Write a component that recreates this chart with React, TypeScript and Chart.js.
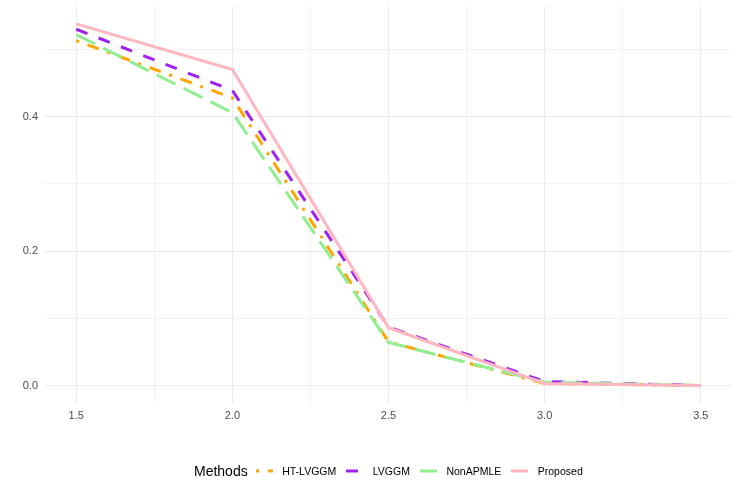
import React, { useEffect, useRef } from "react";
import { Chart, registerables } from "chart.js";

Chart.register(...registerables);

const xValues = [1.5, 2.0, 2.5, 3.0, 3.5];
const htLvggm = [0.513, 0.428, 0.065, 0.003, 0.0];
const lvggm = [0.53, 0.439, 0.087, 0.006, 0.0];
const nonApmle = [0.522, 0.406, 0.064, 0.005, 0.0];
const proposed = [0.538, 0.47, 0.086, 0.003, 0.0];

const xTicks = [1.5, 1.75, 2.0, 2.25, 2.5, 2.75, 3.0, 3.25, 3.5];
const yTicks = [0, 0.1, 0.2, 0.3, 0.4, 0.5];

const methods = [
  { name: "HT-LVGGM", data: htLvggm, color: "#FFA500", dash: [3, 9, 12, 9], order: 3 },
  { name: "LVGGM", data: lvggm, color: "#A020F0", dash: [12, 12], order: 2 },
  { name: "NonAPMLE", data: nonApmle, color: "#90EE90", dash: [21, 9], order: 1 },
  { name: "Proposed", data: proposed, color: "#FFB6C1", dash: [], order: 0 },
];

const FONT = "'Liberation Sans', Arial, sans-serif";

export default function App() {
  const ref = useRef<HTMLCanvasElement | null>(null);

  useEffect(() => {
    document.body.style.margin = "0";
    if (!ref.current) return;
    const chart = new Chart(ref.current, {
      type: "line",
      data: {
        datasets: methods.map((m) => ({
          label: m.name,
          data: xValues.map((x, i) => ({ x, y: m.data[i] })),
          borderColor: m.color,
          backgroundColor: m.color,
          borderWidth: 3,
          borderDash: m.dash,
          pointRadius: 0,
          tension: 0,
          fill: false,
          order: m.order,
          borderCapStyle: "butt" as const,
        })),
      },
      options: {
        animation: false,
        responsive: false,
        maintainAspectRatio: false,
        layout: { padding: { top: 6, right: 6, left: 0, bottom: 0 } },
        plugins: { legend: { display: false }, tooltip: { enabled: false } },
        scales: {
          x: {
            type: "linear",
            min: 1.4,
            max: 3.6,
            afterBuildTicks: (s: any) => {
              s.ticks = xTicks.map((v) => ({ value: v }));
            },
            afterFit: (s: any) => {
              s.height = 92;
              s.paddingLeft = 0;
              s.paddingRight = 0;
            },
            border: { display: false },
            grid: {
              drawTicks: false,
              color: (c: any) => (Math.abs((c.tick?.value * 2) % 1) < 1e-6 ? "#EBEBEB" : "#F2F2F2"),
              lineWidth: 1,
            },
            ticks: {
              padding: 6,
              color: "#4D4D4D",
              font: { family: FONT, size: 11 },
              callback: (v: any) => {
                const n = Number(v);
                return Math.abs((n * 2) % 1) < 1e-6 ? n.toFixed(1) : "";
              },
            },
          },
          y: {
            type: "linear",
            min: -0.026,
            max: 0.5646,
            afterBuildTicks: (s: any) => {
              s.ticks = yTicks.map((v) => ({ value: v }));
            },
            afterFit: (s: any) => {
              s.width = 45;
              s.paddingTop = 0;
              s.paddingBottom = 0;
            },
            border: { display: false },
            grid: {
              drawTicks: false,
              color: (c: any) => (Math.round(c.tick?.value * 10) % 2 === 0 ? "#EBEBEB" : "#F2F2F2"),
              lineWidth: 1,
            },
            ticks: {
              padding: 7,
              color: "#4D4D4D",
              font: { family: FONT, size: 11 },
              callback: (v: any) => {
                const n = Math.round(Number(v) * 10);
                return n % 2 === 0 ? (n / 10).toFixed(1) : "";
              },
            },
          },
        },
      },
    });
    return () => chart.destroy();
  }, []);

  return (
    <div style={{ position: "relative", width: 738, height: 495, background: "#FFFFFF", fontFamily: FONT }}>
      <canvas ref={ref} width={738} height={495} style={{ position: "absolute", left: 0, top: 0, width: 738, height: 495 }} />
      <div
        style={{
          position: "absolute",
          left: 194,
          top: 462,
          height: 18,
          display: "flex",
          alignItems: "center",
          whiteSpace: "nowrap",
        }}
      >
        <span style={{ fontSize: 14, color: "#000000", marginRight: 8 }}>Methods</span>
        {methods.map((m) => (
          <span key={m.name} style={{ display: "flex", alignItems: "center", marginRight: 10 }}>
            <svg width={17} height={6} style={{ display: "block" }}>
              <line
                x1={0}
                y1={3}
                x2={17}
                y2={3}
                stroke={m.color}
                strokeWidth={3}
                strokeDasharray={m.dash.length ? m.dash.join(" ") : undefined}
              />
            </svg>
            <span style={{ fontSize: 10.5, color: "#000000", marginLeft: 9.5 }}>{m.name}</span>
          </span>
        ))}
      </div>
    </div>
  );
}
